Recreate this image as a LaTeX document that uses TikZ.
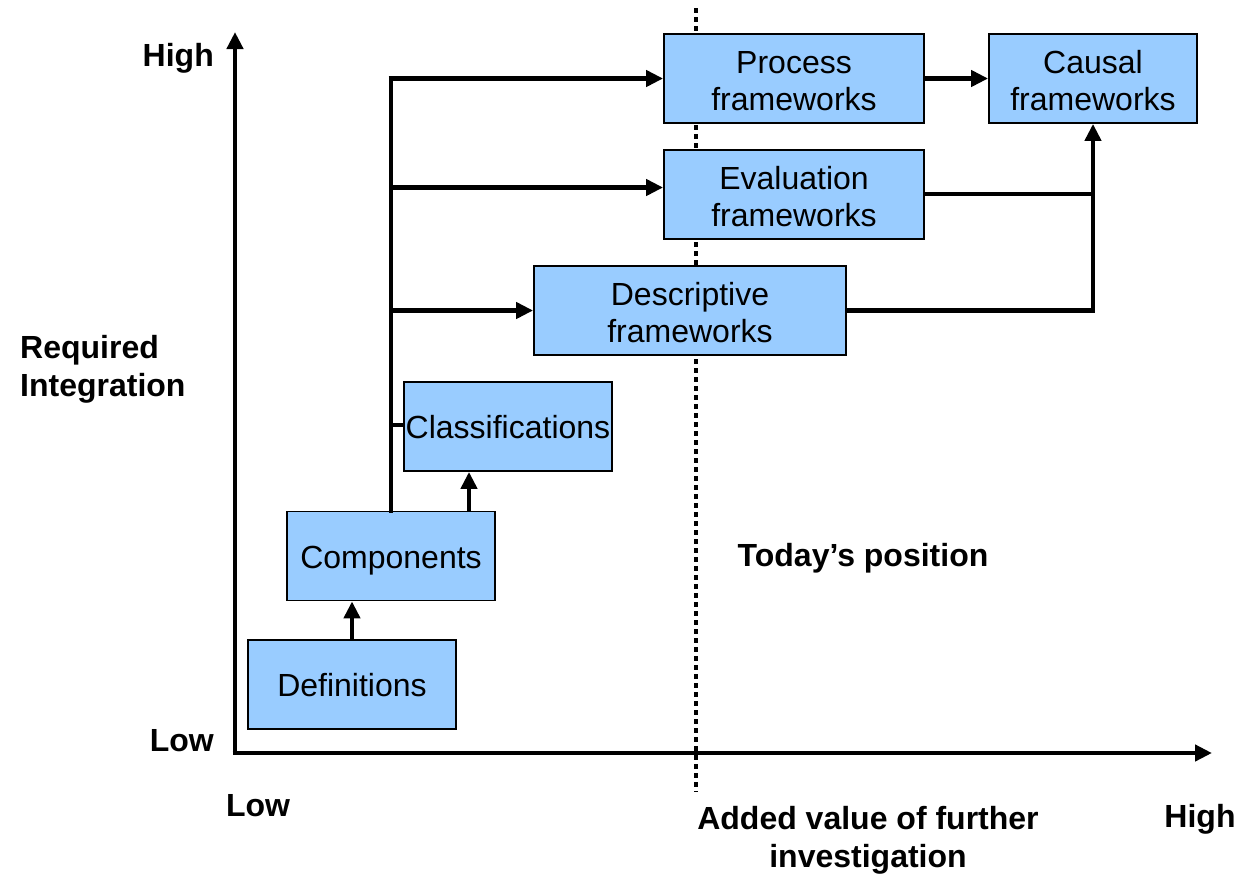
\documentclass[tikz,border=0pt]{standalone}
\usepackage{fontspec}
\setmainfont{Liberation Sans}
\usetikzlibrary{arrows.meta}
\definecolor{boxblue}{HTML}{99CCFF}
\begin{document}
\begin{tikzpicture}[x=1pt,y=-1pt,
  box/.style={draw=black, line width=1.8pt, fill=boxblue, minimum width=#1, inner sep=0pt,
    minimum height=89pt, align=center, font=\fontsize{32}{37}\selectfont,
    text height=27pt, text depth=2.4pt},
  box/.default=208pt,
  twoline/.style={text height=64pt, text depth=0pt},
  lbl/.style={font=\fontsize{32}{38}\selectfont\bfseries, inner sep=0pt},
  conn/.style={line width=4.8pt, line cap=rect},
  arr/.style={line width=4.8pt, -{Triangle[length=17pt,width=16pt]}},
  axis/.style={line width=4.8pt, -{Triangle[length=17pt,width=16pt]}}]
\useasboundingbox (0,0) rectangle (1240,876);

% axes
\coordinate (origin) at (235,753);
\coordinate (ytop) at (235,32);
\coordinate (xend) at (1212,753);
\draw[axis] (origin) -- (ytop);
\draw[axis] ([xshift=-2.4pt]origin) -- (xend);

% dotted separator
\coordinate (dtop) at (696,8);
\coordinate (dbot) at (696,792);
\draw[line width=4.8pt, dash pattern=on 4.5pt off 4.5pt] (dtop) -- (dbot);

% boxes
\node[box] (def)  at (352,684.5) {Definitions};
\node[box] (comp) at (391,556) {Components};
\node[box] (cls)  at (508,426.5) {Classifications};
\node[box=312pt, twoline] (desc) at (690,310.5) {Descriptive\\frameworks};
\node[box=260pt, twoline] (eval) at (794,194.5) {Evaluation\\frameworks};
\node[box=260pt, twoline] (proc) at (794,78.5) {Process\\frameworks};
\node[box, twoline] (caus) at (1093,78.5) {Causal\\frameworks};

% connectors
\draw[arr] (def.north) -- (def.north |- comp.south);
\draw[arr] ([xshift=78pt]comp.north) -- ([xshift=78pt]comp.north |- cls.south);
\draw[conn] (comp.north) -- (comp.north |- proc.west);
\draw[arr] ([xshift=-2.4pt]comp.north |- proc.west) -- (proc.west);
\draw[arr] (comp.north |- eval.west) ++(0,-7) coordinate (ev) -- (eval.west |- ev);
\draw[arr] (comp.north |- desc.west) -- (desc.west);
\draw[conn, line cap=butt] ([yshift=1.5pt]comp.north |- cls.west) -- ([yshift=1.5pt]cls.west);
\draw[arr] (proc.east) -- (caus.west);
\draw[conn, line cap=butt] ([yshift=0.5pt]eval.east) -- ([yshift=0.5pt]eval.east -| caus.south);
\draw[arr] (desc.east) -| (caus.south);

% labels
\node[lbl, anchor=east] (yhigh) at (214,58) {High};
\node[lbl, anchor=east] (ylow) at (214,741) {Low};
\node[lbl, anchor=west, align=left] (ylab) at (20,369) {Required\\Integration};
\node[lbl] (xlow) at (258,806) {Low};
\node[lbl] (xhigh) at (1200,819) {High};
\node[lbl, align=center] (xlab) at (868,840.5) {Added value of further\\investigation};
\node[lbl] (today) at (863,558.5) {Today’s position};
\end{tikzpicture}
\end{document}
